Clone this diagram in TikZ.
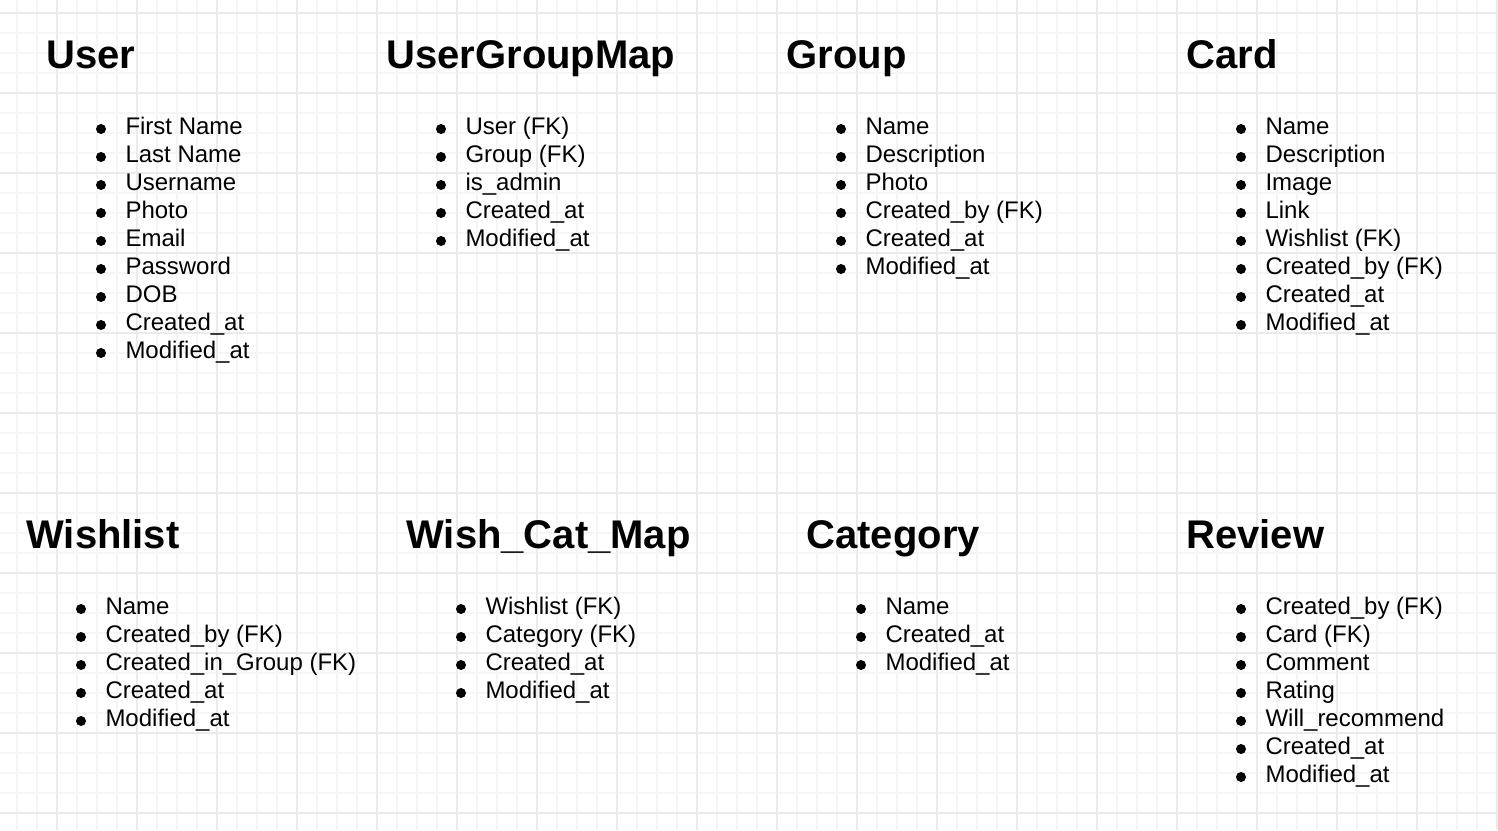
\documentclass[tikz,border=0pt]{standalone}
\usepackage{fontspec}
\setmainfont{Liberation Sans}
\usetikzlibrary{calc}
\tikzset{
  title/.style={anchor=base west, inner sep=0pt, outer sep=0pt, font=\fontsize{40}{48}\selectfont\bfseries},
  item/.style={anchor=base west, inner sep=0pt, outer sep=0pt, font=\fontsize{24}{28}\selectfont},
  minorgrid/.style={draw=black!4, line width=1.4pt},
  majorgrid/.style={draw=black!8, line width=1.4pt},
  bulletdot/.style={fill=black}
}
\newcommand\drawentity[7]{%
  \node[title] (#1-title) at (#3-0.5,#4+0.5) {#2};
  \foreach \t [count=\i] in {#7} {
    \node[item] (#1-\i) at (#5-0.5,{#6+28*(\i-1)}) {\t};
    \fill[bulletdot] ($(#1-\i.base west)+(-24.5,-5)$) circle[radius=5pt];
  }
}
\begin{document}
\begin{tikzpicture}[x=1pt,y=-1pt]
\useasboundingbox (0,0) rectangle (1498,830);
\fill[white] (0,0) rectangle (1498,830);
% minor grid
\foreach \x in {17,37,...,1497} \draw[minorgrid] (\x,0) -- (\x,830);
\foreach \y in {13,33,...,829} \draw[minorgrid] (0,\y) -- (1498,\y);
% major grid
\foreach \x in {57,137,...,1497} \draw[majorgrid] (\x,0) -- (\x,830);
\foreach \y in {13,93,...,829} \draw[majorgrid] (0,\y) -- (1498,\y);

\drawentity{user}{User}{47}{68}{126}{134}{First Name,Last Name,Username,Photo,Email,Password,DOB,Created\_at,Modified\_at}
\drawentity{ugm}{UserGroupMap}{387}{68}{466}{134}{User (FK),Group (FK),is\_admin,Created\_at,Modified\_at}
\drawentity{group}{Group}{787}{68}{866}{134}{Name,Description,Photo,Created\_by (FK),Created\_at,Modified\_at}
\drawentity{card}{Card}{1187}{68}{1266}{134}{Name,Description,Image,Link,Wishlist (FK),Created\_by (FK),Created\_at,Modified\_at}
\drawentity{wish}{Wishlist}{27}{548}{106}{614}{Name,Created\_by (FK),Created\_in\_Group (FK),Created\_at,Modified\_at}
\drawentity{wcm}{Wish\_Cat\_Map}{407}{548}{486}{614}{Wishlist (FK),Category (FK),Created\_at,Modified\_at}
\drawentity{cat}{Category}{807}{548}{886}{614}{Name,Created\_at,Modified\_at}
\drawentity{review}{Review}{1187}{548}{1266}{614}{Created\_by (FK),Card (FK),Comment,Rating,Will\_recommend,Created\_at,Modified\_at}
\end{tikzpicture}
\end{document}
